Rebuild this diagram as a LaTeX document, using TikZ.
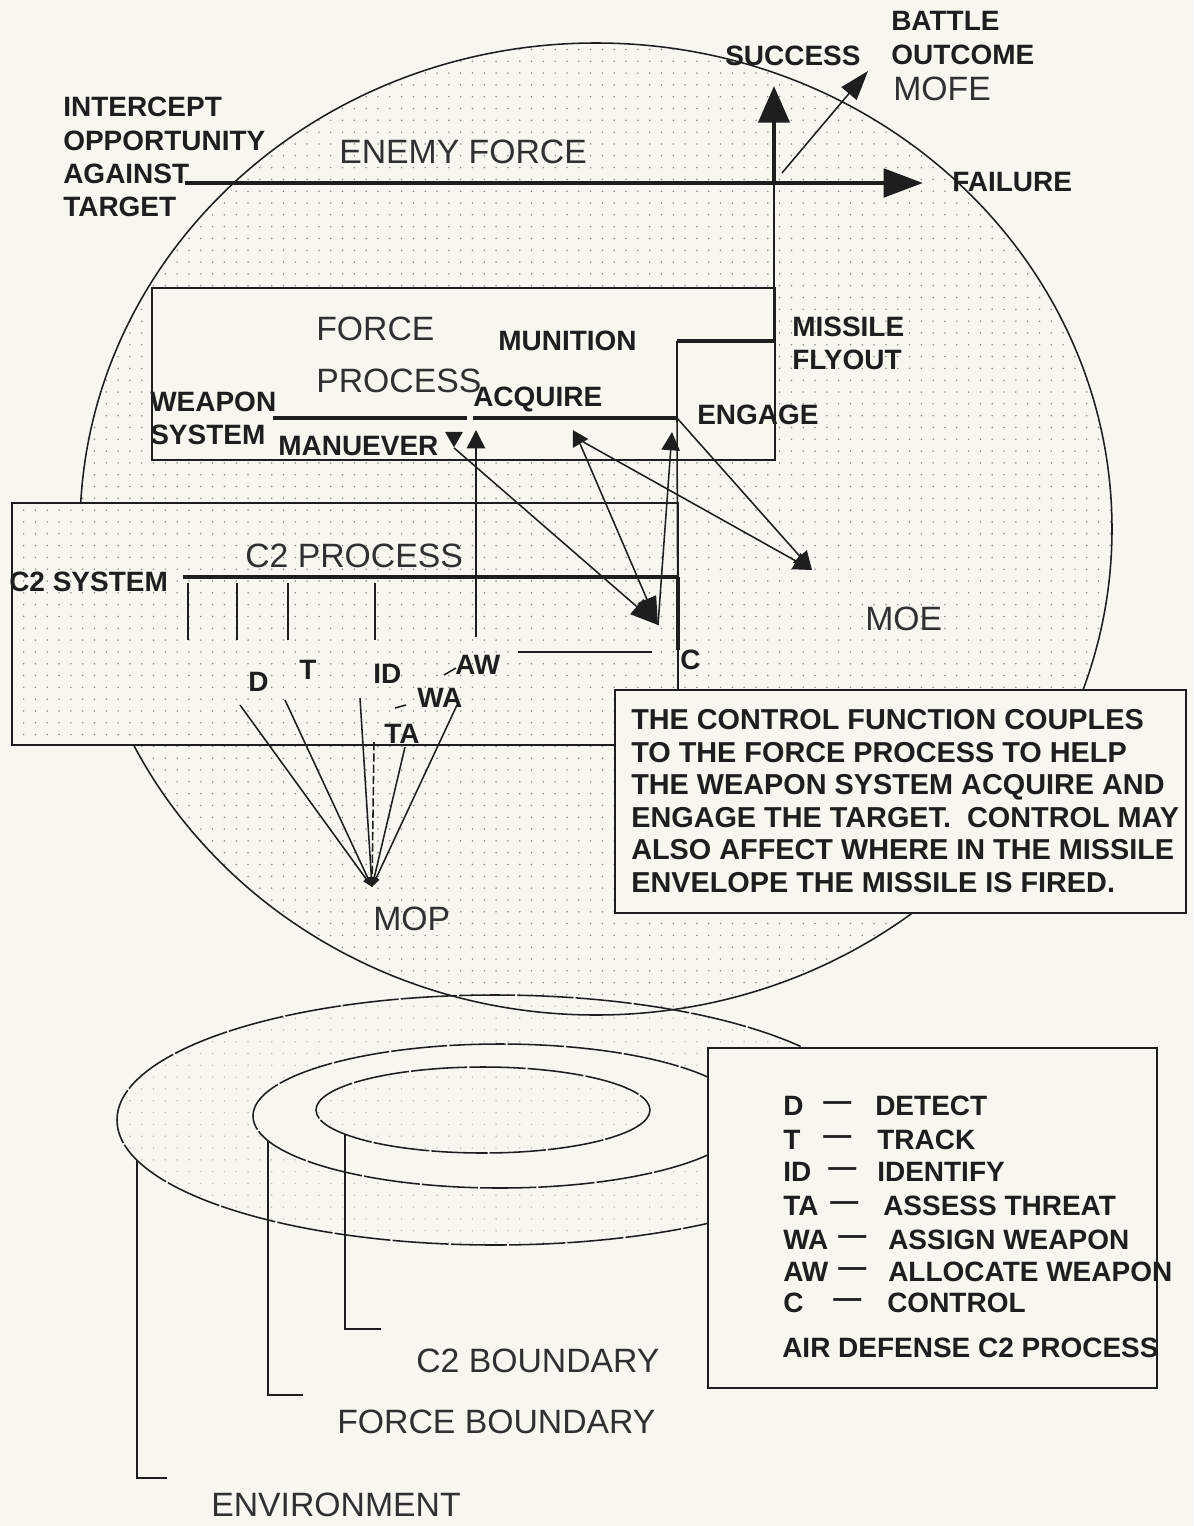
\documentclass[tikz,border=0pt]{standalone}
\usepackage{fontspec}
\setmainfont{Liberation Sans}
\usetikzlibrary{arrows.meta,shapes.geometric,patterns}
\definecolor{Ink}{HTML}{1E1E1E}
\definecolor{Paper}{HTML}{F7F7F0}
\definecolor{Dots}{HTML}{8A8A8A}
\pgfdeclarepatternformonly{sparsedots}{\pgfqpoint{-1pt}{-1pt}}{\pgfqpoint{1pt}{1pt}}{\pgfqpoint{8.4pt}{8.4pt}}{%
  \pgfpathcircle{\pgfqpoint{0pt}{0pt}}{0.62pt}\pgfusepath{fill}}
\newcommand{\lblfont}{\fontsize{19.9}{23.6}\selectfont\bfseries}
\newcommand{\bigfont}{\fontsize{24}{29}\selectfont}
\newcommand{\notefont}{\fontsize{20.5}{23.1}\selectfont\bfseries}

\begin{document}
\begin{tikzpicture}[x=0.025cm, y=-0.025cm,
    lbl/.style={inner sep=0pt, anchor=west, align=left, font=\lblfont, text=Ink},
    bigtxt/.style={inner sep=0pt, anchor=west, font=\bigfont, text=Ink!92},
    ln/.style={draw=Ink, line width=1.1pt},
    heavy/.style={draw=Ink, line width=3pt},
    dotfill/.style={pattern=sparsedots, pattern color=Dots},
    ringln/.style={draw=Ink, line width=1.1pt, dash pattern=on 40pt off 1.5pt},
    bigtip/.style={-{Triangle[length=20pt,width=14pt]}},
    smalltip/.style={-{Triangle[length=13pt,width=13pt]}},
    tinytip/.style={-{Triangle[length=7pt,width=5pt]}},
    tri/.style={isosceles triangle, isosceles triangle apex angle=60, fill=Ink, inner sep=0pt, minimum height=11pt},
  ]
    \useasboundingbox (0,0) rectangle (1193,1526);
    \fill[Paper] (0,0) rectangle (1193,1526);

    % enemy force region
    \fill[dotfill] (596,529) ellipse [x radius=516, y radius=486];

    % boundaries: environment, force, c2
    \fill[Paper] (495,1120) ellipse [x radius=378, y radius=125];
    \fill[pattern=sparsedots, pattern color=Dots!55] (495,1120) ellipse [x radius=378, y radius=125];
    \fill[Paper] (500,1116) ellipse [x radius=247, y radius=72];
    \fill[pattern=sparsedots, pattern color=Dots!55] (483,1110) ellipse [x radius=167, y radius=43];
    \draw[ringln] (495,1120) ellipse [x radius=378, y radius=125];
    \draw[ringln] (500,1116) ellipse [x radius=247, y radius=72];
    \draw[ringln] (483,1110) ellipse [x radius=167, y radius=43];
    \draw[ln] (137,1160) -- (137,1478) -- (167,1478);
    \draw[ln] (268,1141) -- (268,1395) -- (303,1395);
    \draw[ln] (345,1134) -- (345,1329) -- (381,1329);

    \draw[ln] (596,529) ellipse [x radius=516, y radius=486];

    % process boxes
    \fill[Paper] (12,503) rectangle (678,745);
    \fill[dotfill] (12,503) rectangle (678,745);
    \draw[ln] (12,503) rectangle (678,745);
    \draw[ln, fill=Paper] (152,288) rectangle (775,460);
    \draw[ln, fill=Paper] (615,690) rectangle (1186,913);
    \draw[ln, fill=Paper] (708,1048) rectangle (1157,1388);

    % battle outcome
    \node[lbl] (iopp) at (63,157) {INTERCEPT\\OPPORTUNITY\\AGAINST\\TARGET};
    \node[bigtxt] (enemy) at (339,152) {ENEMY FORCE};
    \node[lbl] (success) at (725,56) {SUCCESS};
    \node[lbl] (outcome) at (891,38) {BATTLE\\OUTCOME};
    \node[bigtxt] (mofe) at (893,89) {MOFE};
    \node[lbl] (failure) at (952,182) {FAILURE};
    \coordinate (ioStart) at (185,183);
    \coordinate (ioEnd) at (923,183);
    \coordinate (ioJoin) at (774,183);
    \coordinate (succTip) at (774,86);
    \coordinate (mofeFoot) at (782,173);
    \coordinate (mofeTip) at (868,71);
    \draw[line width=3.4pt, draw=Ink, -{Triangle[length=28pt,width=20pt]}] (ioStart) -- (ioEnd);
    \draw[heavy, -{Triangle[length=26pt,width=22pt]}] (ioJoin) -- (succTip);
    \draw[ln, -{Triangle[length=21pt,width=14pt]}] (mofeFoot) -- (mofeTip);

    % force process
    \node[bigtxt] (fp1) at (316,329) {FORCE};
    \node[bigtxt] (fp2) at (316,381) {PROCESS};
    \node[lbl] (munition) at (498,341) {MUNITION};
    \node[lbl] (flyout) at (792,343) {MISSILE\\FLYOUT};
    \node[lbl] (weapon) at (150,418) {WEAPON\\SYSTEM};
    \node[lbl] (acquire) at (473,399) {ACQUIRE};
    \node[lbl] (engage) at (697,415) {ENGAGE};
    \node[lbl] (manuever) at (278,446) {MANUEVER};
    \coordinate (munC) at (774,341);
    \coordinate (engC) at (677,418);
    \coordinate (engTop) at (677,341);
    \draw[ln] (ioJoin) -- (munC);
    \draw[heavy] (engTop) -- (munC);
    \draw[ln] (engTop) -- (engC);
    \draw[heavy] (473,418) -- (engC);
    \draw[heavy] (273,418) -- (467,418);

    % c2 process
    \node[bigtxt] (c2p) at (245,556) {C2 PROCESS};
    \node[lbl] (c2sys) at (9,582) {C2 SYSTEM};
    \draw[line width=3.4pt, draw=Ink] (183,577) -- (678,577);
    \coordinate (cTop) at (678,577);
    \coordinate (cFoot) at (678,687);
    \draw[ln] (engC) -- (cFoot);
    \draw[heavy] (cTop) -- (678,650);
    \foreach \tx in {188,237,288,375}
      \draw[ln] (\tx,583) -- (\tx,640);
    \node[lbl] (d) at (248,682) {D};
    \node[lbl] (t) at (299,670) {T};
    \node[lbl] (id) at (373,674) {ID};
    \node[lbl] (aw) at (455,665) {AW};
    \node[lbl] (wa) at (417,698) {WA};
    \node[lbl] (ta) at (384,734) {TA};
    \node[lbl] (c) at (680,660) {C};
    \draw[ln] (444,675) -- (456,668);
    \draw[ln] (395,708) -- (406,705);

    % couplings between c2 and force process
    \node[tri, shape border rotate=-60] (mnv) at (454,437) {};
    \node[tri, shape border rotate=-20] (acqB) at (578,439) {};
    \coordinate (acqA) at (476,430);
    \coordinate (eng) at (672,432);
    \coordinate (ctl) at (658,625);
    \coordinate (awL) at (518,652);
    \coordinate (awR) at (652,652);
    \coordinate (moe) at (812,570);
    \draw[ln, smalltip] (476,637) -- (acqA);
    \draw[ln, bigtip] (mnv.apex) -- (ctl);
    \draw[ln, bigtip] (acqB) -- (ctl);
    \draw[ln, smalltip] (ctl) -- (eng);
    \draw[ln] (awL) -- (awR);
    \draw[ln, smalltip] (acqB) -- (moe);
    \draw[ln, smalltip] (engC) -- (moe);
    \node[bigtxt] (moetxt) at (865,619) {MOE};

    % measures of performance
    \coordinate (mop) at (372,887);
    \draw[ln, tinytip] (240,705) -- (mop);
    \draw[ln, tinytip] (285,700) -- (mop);
    \draw[ln, tinytip] (360,698) -- (mop);
    \draw[ln, dash pattern=on 6pt off 2pt, tinytip] (374,742) -- (mop);
    \draw[ln, tinytip] (405,747) -- (mop);
    \draw[ln, tinytip] (457,705) -- (mop);
    \node[bigtxt] (moptxt) at (373,919) {MOP};

    % control note
    \node[inner sep=0pt, anchor=west, align=left, font=\notefont, text=Ink] (note) at (631,801)
      {THE CONTROL FUNCTION COUPLES\\TO THE FORCE PROCESS TO HELP\\THE WEAPON SYSTEM ACQUIRE AND\\ENGAGE THE TARGET.~~CONTROL MAY\\ALSO AFFECT WHERE IN THE MISSILE\\ENVELOPE THE MISSILE IS FIRED.};

    % legend
    \foreach \ab/\dx/\tm/\tx/\yy in {D/823/DETECT/875/1106, T/823/TRACK/877/1140, ID/828/IDENTIFY/877/1172, TA/830/ASSESS THREAT/883/1206, WA/838/ASSIGN WEAPON/888/1240, AW/838/ALLOCATE WEAPON/888/1272, C/833/CONTROL/887/1303} {
      \node[lbl] (lg\ab) at (783,\yy) {\ab};
      \node[lbl] (lgd\ab) at (\dx,\yy) {---};
      \node[lbl] (lgt\ab) at (\tx,\yy) {\tm};
    }
    \node[lbl] (adc2) at (782,1348) {AIR DEFENSE C2 PROCESS};

    \node[bigtxt] (c2b) at (416,1361) {C2 BOUNDARY};
    \node[bigtxt] (fb) at (337,1422) {FORCE BOUNDARY};
    \node[bigtxt] (env) at (211,1505) {ENVIRONMENT};
  \end{tikzpicture}
\end{document}
